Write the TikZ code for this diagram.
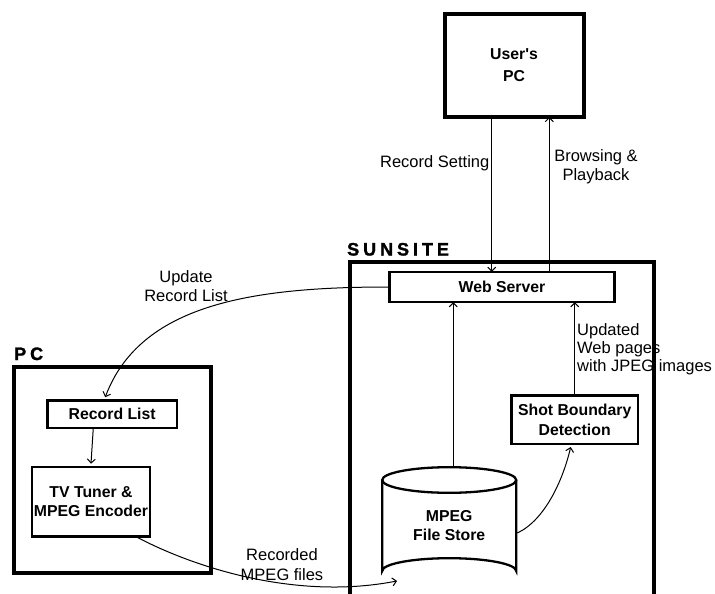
\documentclass[tikz,border=0pt]{standalone}
\usepackage{fontspec}
\setmainfont{Liberation Sans}
\newfontfamily\heavyfont[LetterSpace=22,FakeBold=1.5]{Liberation Sans Bold}
\usetikzlibrary{arrows.meta}
\begin{document}
\begin{tikzpicture}[x=1pt,y=-1pt,
  bigbox/.style={draw,line width=4pt,inner sep=0pt},
  box/.style={draw,line width=2.3pt,font=\bfseries\fontsize{15.8}{19.5}\selectfont,align=center,inner sep=0pt},
  conn/.style={line width=1pt,-{Straight Barb[length=4pt,width=8pt]}},
  lbl/.style={font=\fontsize{16.5}{19}\selectfont,align=center,inner sep=0pt},
  grouplbl/.style={font=\heavyfont\fontsize{18}{20}\selectfont,anchor=base west,inner sep=0pt}
]
\useasboundingbox (0,0) rectangle (715,594);
\clip (0,0) rectangle (715,594);

% boxes
\node[bigbox,minimum width=139pt,minimum height=103pt,font=\bfseries\fontsize{15.8}{22}\selectfont,align=center] (upc) at (514,65.5) {User\textquotesingle s\\PC};
\node[bigbox,minimum width=197.3pt,minimum height=206.6pt] (pcbox) at (112.35,470) {};
\node[bigbox,minimum width=303.4pt,minimum height=400pt] (sun) at (502,462) {};
\node[grouplbl] (sunlbl) at (347,255.5) {SUNSITE};
\node[grouplbl] (pclbl) at (14,360) {PC};

\node[box,minimum width=225pt,minimum height=30pt] (ws) at (502,287) {Web Server};
\node[box,minimum width=129.7pt,minimum height=27.7pt] (rl) at (112.2,414.2) {Record List};
\node[box,minimum width=117.5pt,minimum height=69.7pt] (tv) at (91,501.7) {TV Tuner \&\\MPEG Encoder};
\node[box,minimum width=126.3pt,minimum height=48.3pt] (sb) at (574.7,419.7) {Shot Boundary\\Detection};
\node[box,draw=none,minimum width=134pt,minimum height=116.6pt] (fs) at (449.2,525.5) {MPEG\\File Store};

% cylinder outline
\draw[line width=2.3pt] (449.2,480) ellipse[x radius=67pt,y radius=12.8pt];
\draw[line width=2.3pt] (382.2,480) -- (382.2,571) arc[start angle=180,end angle=0,x radius=67pt,y radius=12.8pt] -- (516.2,480);

% labels
\node[lbl,anchor=east] (rs) at (489.5,163) {Record Setting};
\node[lbl] (bp) at (596,167) {Browsing \&\\Playback};
\node[lbl] (url) at (186,286.5) {Update\\Record List};
\node[lbl,align=left,anchor=north west,font=\fontsize{16.5}{18}\selectfont] (upd) at (577,323) {Updated\\Web pages\\with JPEG images};
\node[lbl,font=\fontsize{16.5}{20}\selectfont] (rec) at (282,565) {Recorded\\MPEG files};

% connectors
\draw[conn,shorten >=-1pt] ([xshift=-22.3pt]upc.south) -- ([xshift=-10.3pt]ws.north);
\draw[conn,shorten >=-2pt] ([xshift=47.3pt]ws.north) -- ([xshift=35.3pt]upc.south);
\draw[conn,shorten >=-1pt] ([xshift=4pt]fs.north) -- ([xshift=4pt]fs.north |- ws.south);
\draw[conn,shorten >=-1pt] (sb.north) -- (sb.north |- ws.south);
\draw[conn] (ws.west) .. controls (250,287) and (140,305) .. ([xshift=-7pt,yshift=2pt]rl.north);
\draw[conn] ([xshift=-19pt]rl.south) -- ([yshift=2pt]tv.north);
\draw[conn] ([xshift=-13pt]tv.south east) .. controls (200,570) and (300,600) .. ([xshift=16pt,yshift=4pt]fs.south west);
\draw[conn] ([yshift=-7.5pt]fs.east) .. controls (545,520) and (563,480) .. ([xshift=-4pt,yshift=-2pt]sb.south);
\end{tikzpicture}
\end{document}
